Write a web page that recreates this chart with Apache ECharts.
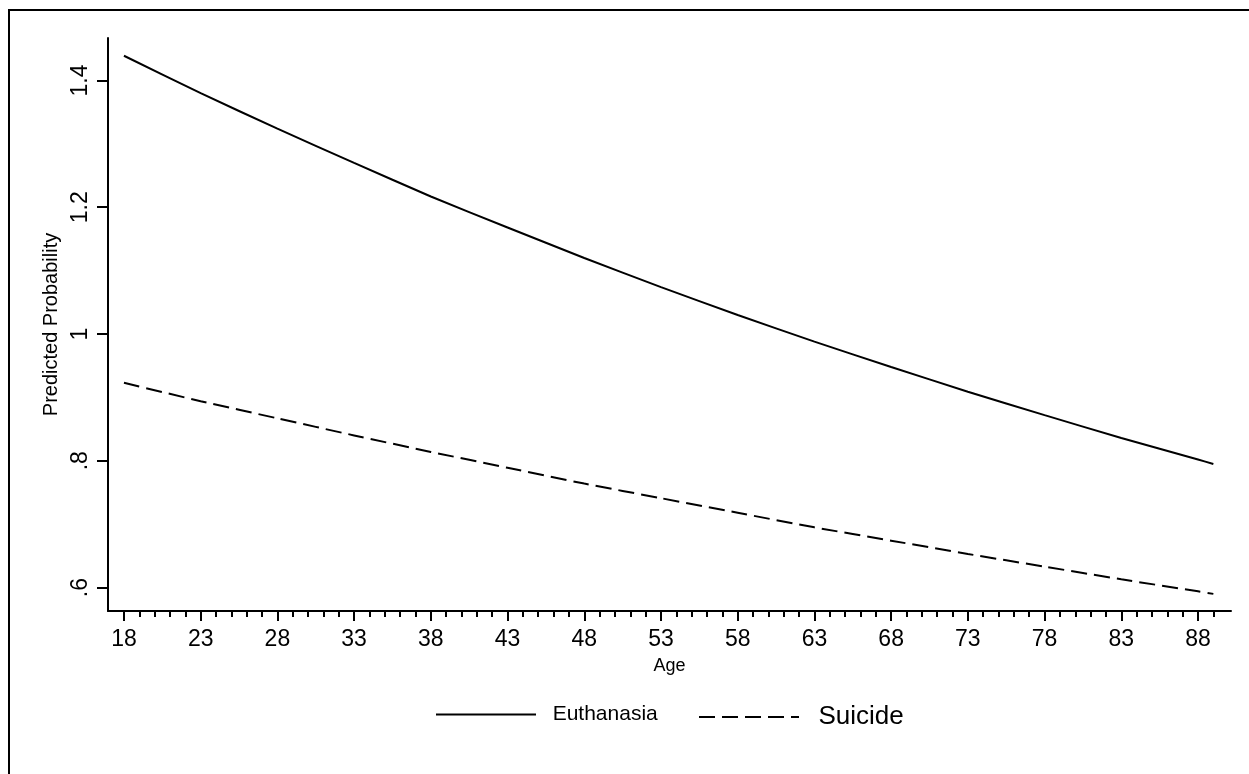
<!DOCTYPE html>
<html>
<head>
<meta charset="utf-8">
<script src="https://cdn.jsdelivr.net/npm/echarts@6/dist/echarts.min.js"></script>
<style>
html,body{margin:0;padding:0;background:#fff;}
#c{width:1249px;height:774px;}
</style>
</head>
<body>
<div id="c"></div>
<script>
// ---- data ----
const ages = [18, 23, 28, 33, 38, 43, 48, 53, 58, 63, 68, 73, 78, 83, 88, 89];
const euthanasia = [1.439, 1.380, 1.324, 1.270, 1.217, 1.168, 1.120, 1.074, 1.030, 0.988, 0.948, 0.909, 0.872, 0.836, 0.802, 0.795];
const suicide = [0.923, 0.894, 0.867, 0.840, 0.814, 0.789, 0.764, 0.741, 0.718, 0.695, 0.674, 0.653, 0.633, 0.613, 0.594, 0.590];
const xMajorTicks = [18, 23, 28, 33, 38, 43, 48, 53, 58, 63, 68, 73, 78, 83, 88];
const xMinorTicks = [18, 19, 20, 21, 22, 23, 24, 25, 26, 27, 28, 29, 30, 31, 32, 33, 34, 35, 36, 37, 38, 39, 40, 41, 42, 43, 44, 45, 46, 47, 48, 49, 50, 51, 52, 53, 54, 55, 56, 57, 58, 59, 60, 61, 62, 63, 64, 65, 66, 67, 68, 69, 70, 71, 72, 73, 74, 75, 76, 77, 78, 79, 80, 81, 82, 83, 84, 85, 86, 87, 88, 89];
const yTicks = [0.6, 0.8, 1.0, 1.2, 1.4];
const yTickLabels = ['.6', '.8', '1', '1.2', '1.4'];
const seriesNames = ['Euthanasia', 'Suicide'];

const font = 'Liberation Sans, Arial, sans-serif';
const xMin = 16.96, xMax = 90.15, yMin = 0.563, yMax = 1.467;

const chart = echarts.init(document.getElementById('c'), null, {renderer: 'canvas'});
const pairs = (vals) => ages.map((a, i) => [a, vals[i]]);

const legendBase = {
  top: 704, padding: 0,
  itemWidth: 100, itemHeight: 26,
  formatter: (n) => '  ' + n,
  itemStyle: {opacity: 0},
  textStyle: {fontFamily: font, color: '#000'}
};

chart.setOption({
  animation: false,
  backgroundColor: '#fff',
  textStyle: {fontFamily: font, color: '#000'},
  graphic: [{
    type: 'rect', silent: true,
    shape: {x: 9, y: 10, width: 1300, height: 800},
    style: {fill: 'none', stroke: '#000', lineWidth: 2}
  }],
  grid: {left: 108, right: 18, top: 38, bottom: 163, containLabel: false},
  legend: [
    Object.assign({}, legendBase, {left: 435, data: [{name: seriesNames[0], textStyle: {fontSize: 21}}]}),
    Object.assign({}, legendBase, {left: 698, data: [{name: seriesNames[1], textStyle: {fontSize: 26}}]})
  ],
  xAxis: [{
    type: 'value', min: xMin, max: xMax, position: 'bottom',
    name: 'Age', nameLocation: 'middle', nameGap: 46,
    nameTextStyle: {fontSize: 18, color: '#000', fontFamily: font},
    axisLine: {show: true, onZero: false, lineStyle: {color: '#000', width: 2}},
    axisTick: {show: true, customValues: xMajorTicks, length: 10, lineStyle: {color: '#000', width: 2}},
    axisLabel: {show: true, customValues: xMajorTicks, margin: 17, fontSize: 23, color: '#000', fontFamily: font},
    splitLine: {show: false}
  }, {
    type: 'value', min: xMin, max: xMax, position: 'bottom', offset: 0,
    axisLine: {show: false},
    axisTick: {show: true, customValues: xMinorTicks, length: 6, lineStyle: {color: '#000', width: 2}},
    axisLabel: {show: false},
    splitLine: {show: false}
  }],
  yAxis: {
    type: 'value', min: yMin, max: yMax,
    name: 'Predicted Probability', nameLocation: 'middle', nameGap: 44, nameRotate: 90,
    nameTextStyle: {fontSize: 20, color: '#000', fontFamily: font},
    axisLine: {show: true, onZero: false, lineStyle: {color: '#000', width: 2}},
    axisTick: {show: true, customValues: yTicks, length: 11, lineStyle: {color: '#000', width: 2}},
    axisLabel: {
      show: true, customValues: yTicks, rotate: 90, margin: 16, fontSize: 23, color: '#000', fontFamily: font,
      formatter: (v) => {
        const i = yTicks.findIndex(t => Math.abs(t - v) < 1e-6);
        return i >= 0 ? yTickLabels[i] : '';
      }
    },
    splitLine: {show: false}
  },
  series: [{
    name: seriesNames[0], type: 'line', xAxisIndex: 0,
    data: pairs(euthanasia), symbol: 'none', smooth: 0.2,
    lineStyle: {color: '#000', width: 2, type: 'solid'},
    itemStyle: {color: '#000'}
  }, {
    name: seriesNames[1], type: 'line', xAxisIndex: 0,
    data: pairs(suicide), symbol: 'none', smooth: 0.2,
    lineStyle: {color: '#000', width: 2, type: [16, 7]},
    itemStyle: {color: '#000'}
  }]
});
</script>
</body>
</html>
